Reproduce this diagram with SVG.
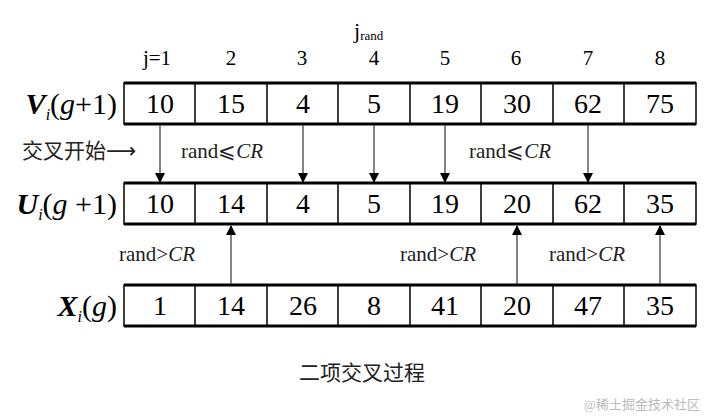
<svg xmlns="http://www.w3.org/2000/svg" width="708" height="417" viewBox="0 0 708 417">
<style>
.c{fill:#fff;stroke:#000;stroke-width:1.5}
.r{stroke:#000;stroke-width:3}
text{font-family:"Liberation Serif","Times New Roman","DejaVu Serif","Noto Sans CJK SC",serif}
.n{font-size:28px;text-anchor:middle}
.h{font-size:21px;text-anchor:middle}
.l{font-size:21px}
.lab{font-size:30px;text-anchor:end}
.a{stroke:#333;stroke-width:1.2}
</style>
<defs><marker id="m" markerWidth="10" markerHeight="10" refX="9" refY="5" orient="auto" markerUnits="userSpaceOnUse"><path d="M0,0L10,5L0,10z" fill="#000"/></marker></defs>
<rect width="708" height="417" fill="#fff"/>
<g id="headers" class="h">
<text x="157" y="65">j=1</text><text x="231" y="65">2</text><text x="302" y="65">3</text><text x="374" y="65">4</text><text x="445" y="65">5</text><text x="516" y="65">6</text><text x="588" y="65">7</text><text x="660" y="65">8</text>
<text x="354" y="38" text-anchor="start" style="font-size:22px">j<tspan font-size="13" dy="2">rand</tspan></text>
</g>
<g id="rowV">
<text class="lab" x="117" y="114"><tspan font-weight="bold" font-style="italic">V</tspan><tspan font-style="italic" font-size="16" dy="6">i</tspan><tspan dy="-6">(</tspan><tspan font-style="italic">g</tspan>+1)</text>
<rect class="c" x="124" y="83" width="572" height="41"/>
<path class="r" d="M124,83H696M124,124H696" fill="none"/>
<path stroke="#000" stroke-width="1.5" d="M195,83V124M267,83V124M338,83V124M410,83V124M481,83V124M553,83V124M624,83V124"/>
<g class="n"><text x="160" y="113">10</text><text x="231" y="113">15</text><text x="303" y="113">4</text><text x="374" y="113">5</text><text x="445" y="113">19</text><text x="517" y="113">30</text><text x="588" y="113">62</text><text x="660" y="113">75</text></g>
</g>
<g id="rowU">
<text class="lab" x="117" y="214"><tspan font-weight="bold" font-style="italic">U</tspan><tspan font-style="italic" font-size="16" dy="6">i</tspan><tspan dy="-6">(</tspan><tspan font-style="italic">g</tspan> +1)</text>
<rect class="c" x="124" y="183" width="572" height="41"/>
<path class="r" d="M124,183H696M124,224H696" fill="none"/>
<path stroke="#000" stroke-width="1.5" d="M195,183V224M267,183V224M338,183V224M410,183V224M481,183V224M553,183V224M624,183V224"/>
<g class="n"><text x="160" y="213">10</text><text x="231" y="213">14</text><text x="303" y="213">4</text><text x="374" y="213">5</text><text x="445" y="213">19</text><text x="517" y="213">20</text><text x="588" y="213">62</text><text x="660" y="213">35</text></g>
</g>
<g id="rowX">
<text class="lab" x="117" y="316"><tspan font-weight="bold" font-style="italic">X</tspan><tspan font-style="italic" font-size="16" dy="6">i</tspan><tspan dy="-6">(</tspan><tspan font-style="italic">g</tspan>)</text>
<rect class="c" x="124" y="285" width="572" height="41"/>
<path class="r" d="M124,285H696M124,326H696" fill="none"/>
<path stroke="#000" stroke-width="1.5" d="M195,285V326M267,285V326M338,285V326M410,285V326M481,285V326M553,285V326M624,285V326"/>
<g class="n"><text x="160" y="315">1</text><text x="231" y="315">14</text><text x="303" y="315">26</text><text x="374" y="315">8</text><text x="445" y="315">41</text><text x="517" y="315">20</text><text x="588" y="315">47</text><text x="660" y="315">35</text></g>
</g>
<g id="connectors" class="a" marker-end="url(#m)">
<line x1="160" y1="125" x2="160" y2="182"/><line x1="303" y1="125" x2="303" y2="182"/><line x1="374" y1="125" x2="374" y2="182"/><line x1="445" y1="125" x2="445" y2="182"/><line x1="588" y1="125" x2="588" y2="182"/>
<line x1="231" y1="284" x2="231" y2="226"/><line x1="517" y1="284" x2="517" y2="226"/><line x1="660" y1="284" x2="660" y2="226"/>
</g>
<g id="labels" class="l" fill="#222">
<text x="22" y="158">交叉开始<tspan font-family="DejaVu Sans,sans-serif">⟶</tspan></text>
<text x="181" y="158">rand⩽<tspan font-style="italic">CR</tspan></text>
<text x="469" y="158">rand⩽<tspan font-style="italic">CR</tspan></text>
<text x="119" y="261">rand&gt;<tspan font-style="italic">CR</tspan></text>
<text x="400" y="261">rand&gt;<tspan font-style="italic">CR</tspan></text>
<text x="549" y="261">rand&gt;<tspan font-style="italic">CR</tspan></text>
<text x="362" y="380" text-anchor="middle">二项交叉过程</text>
<text x="700" y="409" text-anchor="end" font-family="Noto Sans CJK SC,sans-serif" font-size="13" fill="#bbb">@稀土掘金技术社区</text>
</g>
</svg>
